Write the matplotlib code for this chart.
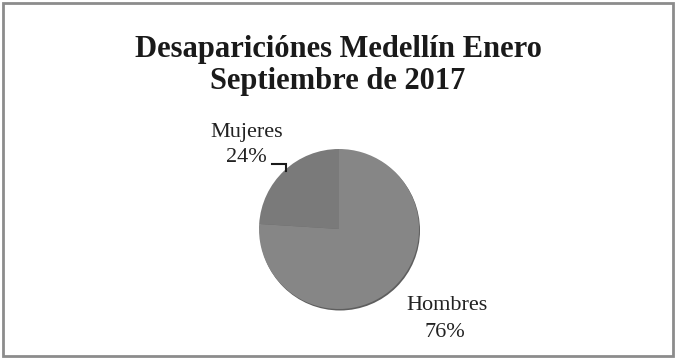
import matplotlib
matplotlib.use("Agg")
import matplotlib.pyplot as plt
from matplotlib.patches import Rectangle, Circle

categories = ["Mujeres", "Hombres"]
values = [24, 76]
slice_colors = ["#7a7a7a", "#868686"]
title_lines = ["Desapariciónes Medellín Enero", "Septiembre de 2017"]

W, H = 676, 359
fig = plt.figure(figsize=(W / 100, H / 100), dpi=100)
fig.patch.set_facecolor("white")
ax = fig.add_axes([0, 0, 1, 1])
ax.axis("off")

# outer frame
ax.add_patch(Rectangle((3, 3), W - 6, H - 6, fill=False, edgecolor="#8c8c8c", linewidth=2))

title_font = dict(ha="center", va="baseline", fontsize=22, fontweight="bold",
                  family="Liberation Serif", color="#1a1a1a")
ax.text(W / 2, H - 57, title_lines[0], **title_font)
ax.text(W / 2, H - 89, title_lines[1], **title_font)

cx, cy, r = 339, H - 229, 80
# soft shadow at the rim
ax.add_patch(Circle((cx + 1, cy - 1.5), r, facecolor="#5e5e5e", edgecolor="none", zorder=1))
ax.pie(values, colors=slice_colors, startangle=90, counterclock=True,
       center=(cx, cy), radius=r, wedgeprops=dict(linewidth=0, zorder=2))
ax.set_xlim(0, W)
ax.set_ylim(0, H)
ax.set_aspect("equal")

lab_font = dict(family="Liberation Serif", fontsize=16, color="#222222",
                ha="center", va="baseline")
ax.text(247, H - 137, categories[0], **lab_font)
ax.text(246, H - 162, f"{values[0]}%", **lab_font)
ax.text(447, H - 310, categories[1], **lab_font)
ax.text(445, H - 337, f"{values[1]}%", **lab_font)

# leader line for Mujeres
ax.plot([272, 286, 286], [H - 164, H - 164, H - 171], color="#1a1a1a", linewidth=1.5,
        solid_joinstyle="miter", zorder=3)

fig.savefig("out.png", dpi=100, facecolor="white")
